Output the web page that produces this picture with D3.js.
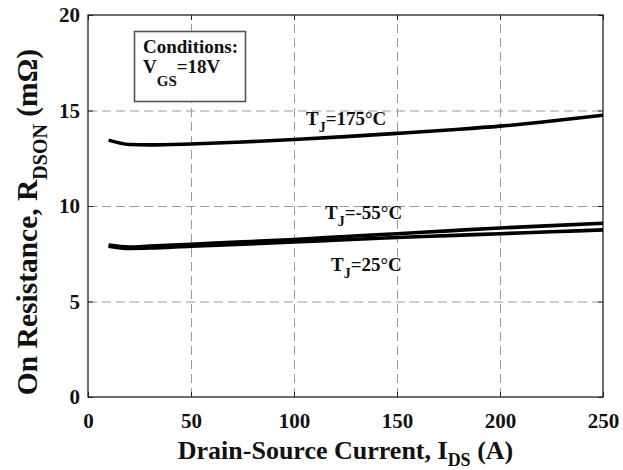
<!DOCTYPE html>
<html lang="en">
  <head>
    <meta charset="utf-8" />
    <title>On Resistance vs Drain-Source Current</title>
    <script src="https://d3js.org/d3.v7.min.js"></script>
    <style>
      body { margin: 0; background: #fff; }
      svg text { font-family: "Liberation Serif", "DejaVu Serif", "Times New Roman", serif !important; font-weight: bold; fill: #111; }
    </style>
  </head>
  <body>
    <div id="container"></div>
    <script>
      // values
      var currents = [10, 20, 30, 50, 75, 100, 125, 150, 175, 200, 225, 250];
      var r175 = [13.45, 13.22, 13.2, 13.25, 13.35, 13.48, 13.63, 13.8, 13.98, 14.18, 14.45, 14.75];
      var rM55 = [7.95, 7.85, 7.9, 8.0, 8.12, 8.25, 8.4, 8.55, 8.7, 8.85, 8.97, 9.1];
      var r25 = [7.9, 7.78, 7.8, 7.9, 8.0, 8.12, 8.23, 8.35, 8.45, 8.55, 8.65, 8.75];
      var xTicks = [0, 50, 100, 150, 200, 250];
      var yTicks = [0, 5, 10, 15, 20];
      var seriesNames = ["175", "-55", "25"];

      var serif = '"Liberation Serif", "DejaVu Serif", serif';
      var width = 623;
      var height = 470;
      var margin = { top: 15, right: 20, bottom: 73, left: 88 };
      var w = width - margin.left - margin.right;
      var h = height - margin.top - margin.bottom;

      var svg = d3.select("#container")
        .append("svg")
        .attr("width", width)
        .attr("height", height)
        .attr("font-family", serif);

      var g = svg.append("g")
        .attr("transform", "translate(" + margin.left + "," + margin.top + ")");

      var x = d3.scaleLinear().domain([0, 250]).range([0, w]);
      var y = d3.scaleLinear().domain([0, 20]).range([h, 0]);

      // dashed grid
      g.append("g")
        .attr("class", "grid")
        .attr("transform", "translate(0," + h + ")")
        .call(d3.axisBottom(x).tickValues([50, 100, 150, 200]).tickSize(-h).tickFormat(""));
      g.append("g")
        .attr("class", "grid")
        .call(d3.axisLeft(y).tickValues([5, 10, 15]).tickSize(-w).tickFormat(""));
      g.selectAll(".grid .domain").remove();
      g.selectAll(".grid line")
        .attr("stroke", "#9a9a9a")
        .attr("stroke-width", 1)
        .attr("stroke-dasharray", "9,5");

      // axes with inward ticks
      var xAxis = g.append("g")
        .attr("class", "axis")
        .attr("transform", "translate(0," + h + ")")
        .call(d3.axisBottom(x).tickValues(xTicks).tickSize(-5).tickPadding(16));
      var yAxis = g.append("g")
        .attr("class", "axis")
        .call(d3.axisLeft(y).tickValues(yTicks).tickSize(-5).tickPadding(8));
      g.append("g")
        .attr("class", "axis")
        .call(d3.axisTop(x).tickValues(xTicks).tickSize(-5).tickFormat(""));
      g.append("g")
        .attr("class", "axis")
        .attr("transform", "translate(" + w + ",0)")
        .call(d3.axisRight(y).tickValues(yTicks).tickSize(-5).tickFormat(""));
      g.selectAll(".domain").remove();
      g.selectAll(".axis").attr("font-family", serif);
      g.selectAll(".axis .tick line").attr("stroke", "#222");
      g.selectAll(".axis text")
        .style("font-family", serif)
        .style("font-size", "21px")
        .attr("fill", "#111");

      g.append("rect")
        .attr("width", w)
        .attr("height", h)
        .attr("fill", "none")
        .attr("stroke", "#222")
        .attr("stroke-width", 1.3);

      // curves
      var line = d3.line()
        .x(function (d) { return x(d[0]); })
        .y(function (d) { return y(d[1]); })
        .curve(d3.curveMonotoneX);

      [r175, rM55, r25].forEach(function (vals) {
        g.append("path")
          .datum(currents.map(function (c, i) { return [c, vals[i]]; }))
          .attr("d", line)
          .attr("fill", "none")
          .attr("stroke", "#000")
          .attr("stroke-width", 3.6)
          .attr("stroke-linejoin", "round");
      });

      // curve labels
      function tjLabel(px, py, name) {
        var t = svg.append("text").attr("x", px).attr("y", py)
          .style("font-family", serif).style("font-size", "19px");
        t.append("tspan").text("T");
        t.append("tspan").attr("dy", 7).style("font-size", "14px").text("J");
        t.append("tspan").attr("dy", -7).text("=" + name + "°C");
      }
      tjLabel(306, 125, seriesNames[0]);
      tjLabel(325, 219, seriesNames[1]);
      tjLabel(331, 271, seriesNames[2]);

      // conditions box
      svg.append("rect")
        .attr("x", 134.5).attr("y", 31.5)
        .attr("width", 111).attr("height", 70)
        .attr("fill", "#fff")
        .attr("stroke", "#555")
        .attr("stroke-width", 1.6);
      svg.append("text").attr("x", 143).attr("y", 53)
        .style("font-family", serif).style("font-size", "19px").text("Conditions:");
      var vgs = svg.append("text").attr("x", 143).attr("y", 73)
        .style("font-family", serif).style("font-size", "19px");
      vgs.append("tspan").text("V");
      vgs.append("tspan").attr("dy", 13).style("font-size", "15px").text("GS");
      vgs.append("tspan").attr("dy", -13).text("=18V");

      // axis titles
      var xt = svg.append("text")
        .attr("x", margin.left + w / 2)
        .attr("y", 459)
        .attr("text-anchor", "middle")
        .style("font-family", serif)
        .style("font-size", "26px");
      xt.append("tspan").text("Drain-Source Current, I");
      xt.append("tspan").attr("dy", 7).style("font-size", "18px").text("DS");
      xt.append("tspan").attr("dy", -7).text(" (A)");

      var yt = svg.append("text")
        .attr("transform", "translate(37,222) rotate(-90)")
        .attr("text-anchor", "middle")
        .style("font-family", serif)
        .style("font-size", "29.5px");
      yt.append("tspan").text("On Resistance, R");
      yt.append("tspan").attr("dy", 10).style("font-size", "20px").text("DSON");
      yt.append("tspan").attr("dy", -10).text(" (mΩ)");
    </script>
  </body>
</html>
